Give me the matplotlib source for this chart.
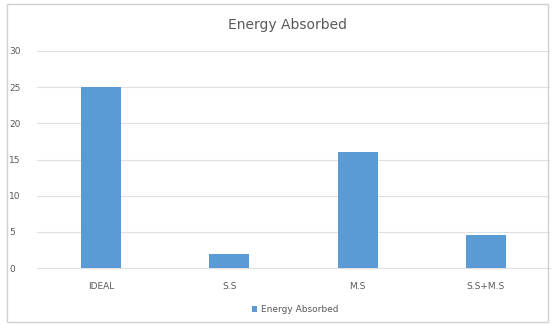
import matplotlib
matplotlib.use("Agg")
import matplotlib.pyplot as plt
from matplotlib.patches import Rectangle

# bar chart data
categories = ["IDEAL", "S.S", "M.S", "S.S+M.S"]
energy_absorbed = [25, 2, 16, 4.5]
y_ticks = [0, 5, 10, 15, 20, 25, 30]

bar_color = "#5b9bd5"
text_color = "#595959"
grid_color = "#e0e0e0"

fig = plt.figure(figsize=(5.54, 3.25), dpi=100)
fig.patch.set_facecolor("white")

# outer chart border
fig.add_artist(Rectangle((7 / 554, 3 / 325), 541 / 554, 318 / 325,
                         transform=fig.transFigure, fill=False,
                         edgecolor="#d0d0d0", linewidth=1.0))

ax = fig.add_axes([37 / 554, 1 - 268 / 325, 513 / 554, 217 / 325])
x = range(len(categories))
ax.bar(x, energy_absorbed, width=0.31, color=bar_color, label="Energy Absorbed", zorder=3)

ax.set_xlim(-0.5, len(categories) - 0.5)
ax.set_ylim(0, 30)
ax.set_yticks(y_ticks)
ax.set_xticks(list(x))
ax.set_xticklabels(categories)
ax.tick_params(axis="both", length=0, labelsize=6.5, colors=text_color)
ax.tick_params(axis="y", pad=20)
ax.tick_params(axis="x", pad=10)
for label in ax.get_yticklabels():
    label.set_horizontalalignment("left")
ax.grid(axis="y", color=grid_color, linewidth=0.8, zorder=0)
for side in ["top", "right", "left"]:
    ax.spines[side].set_visible(False)
ax.spines["bottom"].set_color(grid_color)

fig.text(287 / 554, 1 - 25 / 325, "Energy Absorbed", ha="center", va="center",
         fontsize=10, color=text_color)

fig.legend(loc="center", bbox_to_anchor=(295 / 554, 1 - 310 / 325), frameon=False,
           fontsize=6.5, handlelength=0.6, handleheight=0.6, handletextpad=0.4,
           labelcolor=text_color)

fig.savefig("out.png", dpi=100)
